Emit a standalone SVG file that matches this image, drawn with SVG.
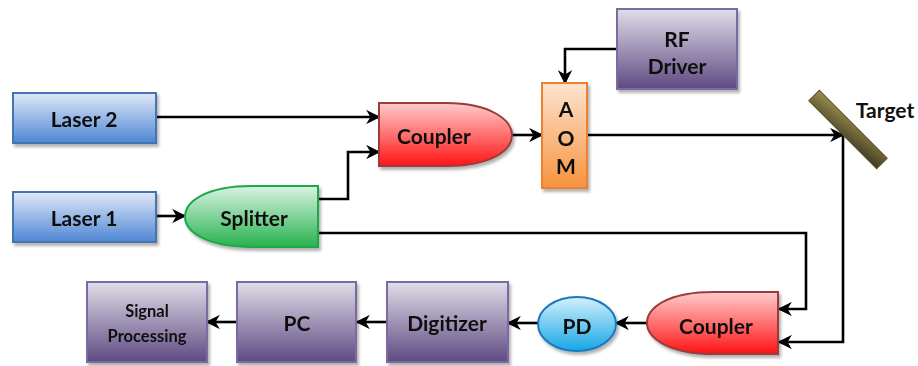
<svg xmlns="http://www.w3.org/2000/svg" width="918" height="366" viewBox="0 0 918 366">
  <defs>
    <linearGradient id="gBlue" x1="0" y1="0" x2="0" y2="1">
      <stop offset="0" stop-color="#dfe9f7"/>
      <stop offset="1" stop-color="#4f86d4"/>
    </linearGradient>
    <linearGradient id="gGreen" x1="0" y1="0" x2="0" y2="1">
      <stop offset="0" stop-color="#d8f3e2"/>
      <stop offset="1" stop-color="#27b24f"/>
    </linearGradient>
    <linearGradient id="gRed" x1="0" y1="0" x2="0" y2="1">
      <stop offset="0" stop-color="#ffcccc"/>
      <stop offset="1" stop-color="#ff1414"/>
    </linearGradient>
    <linearGradient id="gOrange" x1="0" y1="0" x2="0" y2="1">
      <stop offset="0" stop-color="#fde4d0"/>
      <stop offset="1" stop-color="#f7923e"/>
    </linearGradient>
    <linearGradient id="gPurple" x1="0" y1="0" x2="0" y2="1">
      <stop offset="0" stop-color="#e0dde8"/>
      <stop offset="1" stop-color="#5e4a82"/>
    </linearGradient>
    <linearGradient id="gCyan" x1="0" y1="0" x2="0" y2="1">
      <stop offset="0" stop-color="#d4f0fc"/>
      <stop offset="1" stop-color="#16a6e6"/>
    </linearGradient>
    <linearGradient id="gOlive" x1="0" y1="0" x2="1" y2="1">
      <stop offset="0" stop-color="#9a8e52"/>
      <stop offset="1" stop-color="#3e3920"/>
    </linearGradient>
    <filter id="shadow" x="-10%" y="-10%" width="125%" height="130%">
      <feDropShadow dx="2" dy="3" stdDeviation="1.5" flood-color="#000" flood-opacity="0.3"/>
    </filter>
    <marker id="arrow" viewBox="0 0 10 10" refX="9" refY="5" markerWidth="5.5" markerHeight="5.5" orient="auto" markerUnits="strokeWidth">
      <path d="M0,0 L10,5 L0,10 L3,5 Z" fill="#000"/>
    </marker>
  </defs>
  <style>
    text { font-family: Lato, "Open Sans", "Liberation Sans", sans-serif; font-weight: bold; fill: #111; text-anchor: middle; dominant-baseline: central; }
    .t19 { font-size: 21px; }
    .t15 { font-size: 16.5px; }
    .wire { fill: none; stroke: #000; stroke-width: 2.6; marker-end: url(#arrow); }
  </style>

  <rect width="918" height="366" fill="#fff"/>

  <!-- connectors -->
  <g id="connectors">
    <path class="wire" d="M156,117 H379"/>
    <path class="wire" d="M156,216 H185"/>
    <path class="wire" d="M318,199 H348 V152 H379"/>
    <path class="wire" d="M512,135 H542"/>
    <path class="wire" d="M617,49 H565 V83"/>
    <path class="wire" d="M587,135 H843"/>
    <path class="wire" d="M843,136 V342 H779"/>
    <path class="wire" d="M318,233 H806 V309 H779"/>
    <path class="wire" d="M647,323 H616"/>
    <path class="wire" d="M538,323 H508"/>
    <path class="wire" d="M387,322 H357"/>
    <path class="wire" d="M237,322 H207"/>
  </g>

  <g id="laser2" filter="url(#shadow)">
    <rect x="13" y="93" width="143" height="50" fill="url(#gBlue)" stroke="#4574b0" stroke-width="2"/>
    <text class="t19" x="84" y="118">Laser 2</text>
  </g>

  <g id="laser1" filter="url(#shadow)">
    <rect x="13" y="192" width="143" height="50" fill="url(#gBlue)" stroke="#4574b0" stroke-width="2"/>
    <text class="t19" x="84" y="217">Laser 1</text>
  </g>

  <g id="splitter" filter="url(#shadow)">
    <path d="M318,186 V247 H252 C205,247 185,231 185,216.5 C185,202 205,186 252,186 Z" fill="url(#gGreen)" stroke="#1fa84a" stroke-width="2"/>
    <text class="t19" x="254" y="217">Splitter</text>
  </g>

  <g id="coupler-in" filter="url(#shadow)">
    <path d="M379,103 H446 C492,103 512,121 512,135 C512,150 492,166 446,166 H379 Z" fill="url(#gRed)" stroke="#9c3b3b" stroke-width="2"/>
    <text class="t19" x="434" y="135">Coupler</text>
  </g>

  <g id="aom" filter="url(#shadow)">
    <rect x="542" y="83" width="45" height="105" fill="url(#gOrange)" stroke="#ee8030" stroke-width="2"/>
    <text class="t19" x="566" y="108">A</text>
    <text class="t19" x="566" y="137">O</text>
    <text class="t19" x="566" y="165">M</text>
  </g>

  <g id="rf-driver" filter="url(#shadow)">
    <rect x="617" y="9" width="120" height="80" fill="url(#gPurple)" stroke="#7c6aa2" stroke-width="2"/>
    <text class="t19" x="677" y="38">RF</text>
    <text class="t19" x="677" y="65">Driver</text>
  </g>

  <g id="target">
    <rect x="800" y="122" width="96" height="15" fill="url(#gOlive)" stroke="#5c5530" stroke-width="1" transform="rotate(45 848 129.5)"/>
    <text class="t19" x="885" y="109">Target</text>
  </g>

  <g id="coupler-out" filter="url(#shadow)">
    <path d="M778,292 V354 H714 C667,354 647,337 647,323 C647,308 667,292 714,292 Z" fill="url(#gRed)" stroke="#9c3b3b" stroke-width="2"/>
    <text class="t19" x="716" y="325">Coupler</text>
  </g>

  <g id="pd" filter="url(#shadow)">
    <ellipse cx="577" cy="324" rx="39" ry="27" fill="url(#gCyan)" stroke="#1b78c0" stroke-width="2"/>
    <text class="t19" x="577" y="325">PD</text>
  </g>

  <g id="digitizer" filter="url(#shadow)">
    <rect x="387" y="282" width="121" height="80" fill="url(#gPurple)" stroke="#7c6aa2" stroke-width="2"/>
    <text class="t19" x="447" y="322">Digitizer</text>
  </g>

  <g id="pc" filter="url(#shadow)">
    <rect x="237" y="282" width="119" height="80" fill="url(#gPurple)" stroke="#7c6aa2" stroke-width="2"/>
    <text class="t19" x="297" y="322">PC</text>
  </g>

  <g id="signal-processing" filter="url(#shadow)">
    <rect x="87" y="282" width="120" height="80" fill="url(#gPurple)" stroke="#7c6aa2" stroke-width="2"/>
    <text class="t15" x="147" y="311">Signal</text>
    <text class="t15" x="147" y="336">Processing</text>
  </g>
</svg>
